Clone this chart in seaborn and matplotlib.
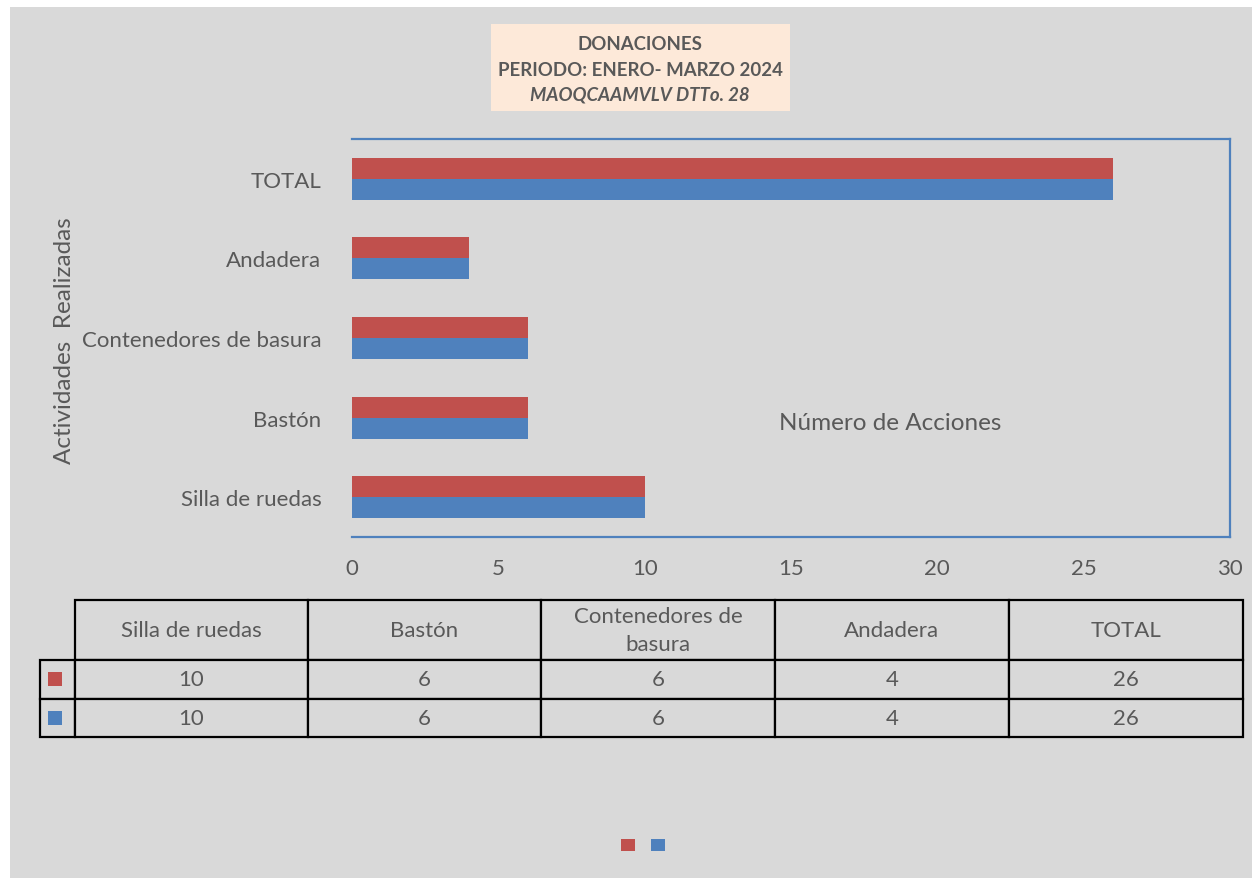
import pandas as pd
import matplotlib
matplotlib.use("Agg")
import matplotlib.pyplot as plt
from matplotlib.patches import Rectangle, Patch
import seaborn as sns

# data
actividades = ["Silla de ruedas", "Bastón", "Contenedores de basura", "Andadera", "TOTAL"]
serie_1 = [10, 6, 6, 4, 26]
serie_2 = [10, 6, 6, 4, 26]
series = ["Serie 1", "Serie 2"]
x_ticks = [0, 5, 10, 15, 20, 25, 30]

RED = "#c0504d"
BLUE = "#4f81bd"
GRAY_BG = "#d9d9d9"
TXT = "#595959"

sns.set_theme(style="white")
plt.rcParams["font.family"] = ["Lato", "DejaVu Sans"]

df = pd.DataFrame({
    "Actividad": actividades * 2,
    "Serie": [series[0]] * len(actividades) + [series[1]] * len(actividades),
    "Acciones": serie_1 + serie_2,
})

W, H = 1252, 879
fig = plt.figure(figsize=(W / 100, H / 100), dpi=100)
fig.patch.set_facecolor("white")
# gray chart area (thin white strip on top/left like the reference)
fig.patches.append(Rectangle((10 / W, 0), 1 - 10 / W, 1 - 8 / H, transform=fig.transFigure,
                             facecolor=GRAY_BG, edgecolor="none", zorder=-10))


def fig_box(x0, y0, x1, y1):
    return [x0 / W, 1 - y1 / H, (x1 - x0) / W, (y1 - y0) / H]


ax = fig.add_axes(fig_box(352, 140, 1230, 538))
ax.set_facecolor(GRAY_BG)

sns.barplot(data=df, y="Actividad", x="Acciones", hue="Serie",
            order=actividades[::-1], hue_order=series,
            palette=[RED, BLUE], saturation=1, width=0.53, gap=0,
            orient="h", legend=False, linewidth=0, ax=ax)

ax.set_xlim(0, 30)
ax.set_xticks(x_ticks)
ax.tick_params(axis="both", length=0, labelsize=16, labelcolor=TXT)
ax.tick_params(axis="x", pad=15)
ax.tick_params(axis="y", pad=22)

for s in ["top", "right", "bottom"]:
    ax.spines[s].set_color(BLUE)
    ax.spines[s].set_linewidth(1.6)
ax.spines["left"].set_visible(False)

ax.set_xlabel("Número de Acciones", fontsize=17.5, color=TXT)
ax.xaxis.set_label_coords(0.613, 0.313)
ax.set_ylabel("Actividades  Realizadas", fontsize=17.5, color=TXT)
ax.yaxis.set_label_coords(-0.316, 0.497)

# title box
fig.patches.append(Rectangle((491 / W, 1 - 112 / H), 299 / W, 87 / H, transform=fig.transFigure,
                             facecolor="#fde9d9", edgecolor="none", zorder=1))
fig.text(640 / W, 1 - 44 / H, "DONACIONES", ha="center", va="center",
         fontsize=13.4, fontweight="bold", color=TXT, zorder=2)
fig.text(640 / W, 1 - 70 / H, "PERIODO: ENERO- MARZO 2024", ha="center", va="center",
         fontsize=13.4, fontweight="bold", color=TXT, zorder=2)
fig.text(640 / W, 1 - 95 / H, "MAOQCAAMVLV DTTo. 28", ha="center", va="center",
         fontsize=13.4, fontweight="bold", fontstyle="italic", color=TXT, zorder=2)

# data table under the chart
tax = fig.add_axes(fig_box(40, 601, 1243, 738))
tax.axis("off")
col_w = [35, 233, 233, 234, 234, 234]
tot = sum(col_w)
head = [""] + [a.replace("Contenedores de basura", "Contenedores de\nbasura") for a in actividades]
rows = [[""] + [str(v) for v in serie_1], [""] + [str(v) for v in serie_2]]
tbl = tax.table(cellText=rows, colLabels=head, colWidths=[c / tot for c in col_w],
                cellLoc="center", bbox=[0, 0, 1, 1])
tbl.auto_set_font_size(False)
tbl.set_fontsize(16)
for (r, c), cell in tbl.get_celld().items():
    cell.set_facecolor(GRAY_BG)
    cell.set_edgecolor("black")
    cell.set_linewidth(1.6)
    cell.get_text().set_color(TXT)
    cell.get_text().set_linespacing(1.55)
    cell.set_height(60 if r == 0 else 38.5)
tbl[0, 0].visible_edges = ""

# colored squares in the row label column
th = 137.0
for i, col in enumerate([RED, BLUE]):
    yc = 680 + i * 39
    tax.add_patch(Rectangle(((55 - 7 - 40) / tot, 1 - (yc + 7 - 601) / th), 14 / tot, 14 / th,
                            transform=tax.transAxes, facecolor=col, edgecolor="none",
                            zorder=5, clip_on=False))

# legend with only markers
handles = [Patch(facecolor=RED, edgecolor="none"), Patch(facecolor=BLUE, edgecolor="none")]
fig.legend(handles, ["", ""], loc="center", bbox_to_anchor=(643 / W, 1 - 846 / H), ncol=2,
           frameon=False, handlelength=1, handleheight=1, handletextpad=0,
           columnspacing=1.1, fontsize=10)

fig.savefig("out.png", dpi=100, facecolor=fig.get_facecolor())
